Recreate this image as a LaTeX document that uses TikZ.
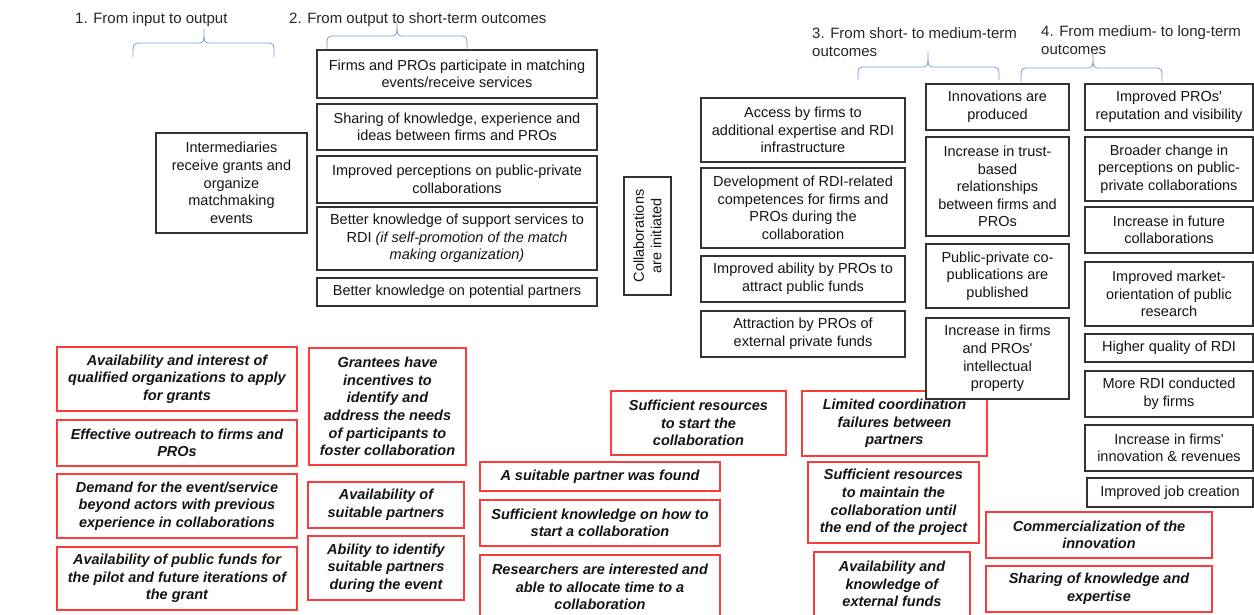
\documentclass[tikz,border=0pt]{standalone}
\usepackage{fontspec}
\setmainfont{Liberation Sans}

\definecolor{boxred}{RGB}{250,60,60}
\definecolor{braceblue}{RGB}{118,158,224}

\tikzset{
  outbox/.style={draw=black!80, line width=1.1pt, fill=white, align=center, inner sep=2pt,
    font=\fontsize{14.5}{17.6}\selectfont, text=black!92},
  condbox/.style={draw=boxred, line width=1.1pt, fill=white, align=center, inner sep=2pt,
    font=\fontsize{14.5}{17.6}\selectfont\bfseries\itshape, text=black!92},
  stagetitle/.style={anchor=west, inner sep=0pt, align=left,
    font=\fontsize{15}{18}\selectfont, text=black!85},
  stagebrace/.style={draw=braceblue, line width=0.8pt}
}

\begin{document}
\begin{tikzpicture}[x=1pt,y=-1pt]
\useasboundingbox (0,0) rectangle (1254,614);

% stage titles
\node[stagetitle] (title1) at (75,20) {1. From input to output};
\node[stagetitle] (title2) at (289,20) {2. From output to short-term outcomes};
\node[stagetitle] (title3) at (812,42) {3. From short- to medium-term\\outcomes};
\node[stagetitle] (title4) at (1041,40) {4. From medium- to long-term\\outcomes};

% braces under the titles
\draw[stagebrace] (133,57) .. controls (133,43) .. (141,43) -- (197,43)
  .. controls (204,43) .. (204,29) .. controls (204,43) .. (211,43) -- (266,43)
  .. controls (274,43) .. (274,57);
\draw[stagebrace] (327,49) .. controls (327,36) .. (335,36) -- (390,36)
  .. controls (397,36) .. (397,20) .. controls (397,36) .. (404,36) -- (459,36)
  .. controls (467,36) .. (467,49);
\draw[stagebrace] (858,80) .. controls (858,67) .. (866,67) -- (921,67)
  .. controls (928,67) .. (928,52) .. controls (928,67) .. (935,67) -- (991,67)
  .. controls (999,67) .. (999,80);
\draw[stagebrace] (1021,82) .. controls (1021,68) .. (1029,68) -- (1086,68)
  .. controls (1093,68) .. (1093,53) .. controls (1093,68) .. (1100,68) -- (1154,68)
  .. controls (1162,68) .. (1162,82);

% conditions (red)
\node[condbox, minimum width=240pt, minimum height=64pt] (apply) at (177,379) {Availability and interest of\\qualified organizations to apply\\for grants};
\node[condbox, minimum width=240pt, minimum height=46pt] (outreach) at (177,443) {Effective outreach to firms and\\PROs};
\node[condbox, minimum width=240pt, minimum height=64pt] (demand) at (177,506) {Demand for the event/service\\beyond actors with previous\\experience in collaborations};
\node[condbox, minimum width=240pt, minimum height=63pt] (funds) at (177,578.5) {Availability of public funds for\\the pilot and future iterations of\\the grant};

\node[condbox, minimum width=157pt, minimum height=117pt] (incent) at (387.5,406.5) {Grantees have\\incentives to\\identify and\\address the needs\\of participants to\\foster collaboration};
\node[condbox, minimum width=156pt, minimum height=46pt] (avail) at (386,505) {Availability of\\suitable partners};
\node[condbox, minimum width=156pt, minimum height=64pt] (ident) at (386,568) {Ability to identify\\suitable partners\\during the event};

\node[condbox, minimum width=240pt, minimum height=29pt] (found) at (600,476.5) {A suitable partner was found};
\node[condbox, minimum width=240pt, minimum height=46pt] (howto) at (600,523) {Sufficient knowledge on how to\\start a collaboration};
\node[condbox, minimum width=240pt, minimum height=64pt] (time) at (600,587) {Researchers are interested and\\able to allocate time to a\\collaboration};

\node[condbox, minimum width=175pt, minimum height=64pt] (start) at (698.5,423) {Sufficient resources\\to start the\\collaboration};
\node[condbox, minimum width=185pt, minimum height=65pt] (coord) at (894.5,423.5) {Limited coordination\\failures between\\partners};
\node[condbox, minimum width=171pt, minimum height=81pt] (maintain) at (893.5,502.5) {Sufficient resources\\to maintain the\\collaboration until\\the end of the project};
\node[condbox, minimum width=156pt, minimum height=64pt] (extfunds) at (892,584) {Availability and\\knowledge of\\external funds};

\node[condbox, minimum width=226pt, minimum height=46pt] (commerc) at (1099,535) {Commercialization of the\\innovation};
\node[condbox, minimum width=226pt, minimum height=46pt] (expert) at (1099,589) {Sharing of knowledge and\\expertise};

% outputs and outcomes (black)
\node[outbox, minimum width=151pt, minimum height=100pt] (grants) at (231.5,183) {Intermediaries\\receive grants and\\organize\\matchmaking\\events};

\node[outbox, minimum width=280pt, minimum height=48pt] (events) at (457,74) {Firms and PROs participate in matching\\events/receive services};
\node[outbox, minimum width=280pt, minimum height=46pt] (sharing) at (457,127) {Sharing of knowledge, experience and\\ideas between firms and PROs};
\node[outbox, minimum width=280pt, minimum height=47pt] (percept) at (457,179.5) {Improved perceptions on public-private\\collaborations};
\node[outbox, minimum width=280pt, minimum height=63pt] (support) at (457,238.5) {Better knowledge of support services to\\RDI \textit{(if self-promotion of the match}\\\textit{making organization)}};
\node[outbox, minimum width=280pt, minimum height=28pt] (partners) at (457,292) {Better knowledge on potential partners};

\node[outbox, rotate=90, minimum width=118pt, minimum height=47pt] (initiated) at (647.5,236) {Collaborations\\are initiated};

\node[outbox, minimum width=204pt, minimum height=64pt] (access) at (803,130) {Access by firms to\\additional expertise and RDI\\infrastructure};
\node[outbox, minimum width=204pt, minimum height=80pt] (compet) at (803,208) {Development of RDI-related\\competences for firms and\\PROs during the\\collaboration};
\node[outbox, minimum width=204pt, minimum height=46pt] (pubfunds) at (803,279) {Improved ability by PROs to\\attract public funds};
\node[outbox, minimum width=204pt, minimum height=46pt] (privfunds) at (803,334) {Attraction by PROs of\\external private funds};

\node[outbox, minimum width=143pt, minimum height=46pt] (innov) at (997.5,107) {Innovations are\\produced};
\node[outbox, minimum width=143pt, minimum height=99pt] (trust) at (997.5,186.5) {Increase in trust-\\based\\relationships\\between firms and\\PROs};
\node[outbox, minimum width=143pt, minimum height=64pt] (copub) at (997.5,276) {Public-private co-\\publications are\\published};
\node[outbox, minimum width=143pt, minimum height=81pt] (ip) at (997.5,358.5) {Increase in firms\\and PROs\textquotesingle\\intellectual\\property};

\node[outbox, minimum width=168pt, minimum height=46pt] (reput) at (1169,107) {Improved PROs\textquotesingle\\reputation and visibility};
\node[outbox, minimum width=168pt, minimum height=64pt] (broader) at (1169,169) {Broader change in\\perceptions on public-\\private collaborations};
\node[outbox, minimum width=168pt, minimum height=46pt] (future) at (1169,230) {Increase in future\\collaborations};
\node[outbox, minimum width=168pt, minimum height=64pt] (market) at (1169,294) {Improved market-\\orientation of public\\research};
\node[outbox, minimum width=168pt, minimum height=28pt] (quality) at (1169,348) {Higher quality of RDI};
\node[outbox, minimum width=168pt, minimum height=46pt] (morerdi) at (1169,394) {More RDI conducted\\by firms};
\node[outbox, minimum width=168pt, minimum height=46pt] (revenue) at (1169,448) {Increase in firms\textquotesingle\\innovation \& revenues};
\node[outbox, minimum width=166pt, minimum height=29pt] (jobs) at (1170,492.5) {Improved job creation};
\end{tikzpicture}
\end{document}
